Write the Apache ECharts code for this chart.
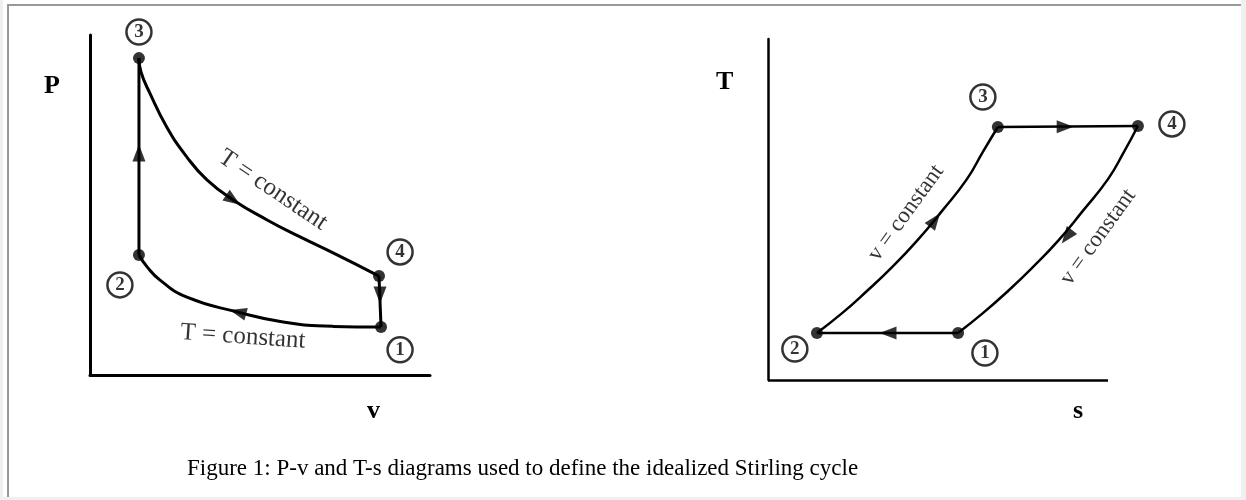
<!DOCTYPE html>
<html>
<head>
<meta charset="utf-8">
<script src="https://cdn.jsdelivr.net/npm/echarts@6/dist/echarts.min.js"></script>
<style>
  html, body { margin: 0; padding: 0; background: #fff; }
  #chart { width: 1246px; height: 500px; }
</style>
</head>
<body>
<div id="chart"></div>
<script>
// P-v diagram (axis units 0..10)
var pvUpper = [[1.44, 9.32], [1.50, 8.91], [1.76, 8.29], [2.26, 7.29], [2.85, 6.41], [3.44, 5.74], [4.21, 5.15], [5.21, 4.56], [6.18, 4.06], [7.15, 3.59], [8.50, 2.91]]
var pvLower = [[1.44, 3.53], [1.68, 3.18], [2.06, 2.79], [2.85, 2.29], [4.35, 1.85], [5.68, 1.56], [7.15, 1.43], [8.56, 1.41]]
var pvSide23 = [[1.44, 9.32], [1.44, 3.53]]
var pvSide41 = [[8.50, 2.91], [8.56, 1.41]]
var pvStates = [[8.56, 1.41], [1.44, 3.53], [1.44, 9.32], [8.50, 2.91]]
var stateNames = ['1', '2', '3', '4']
var pvTags = [[9.12, 0.74], [0.88, 2.65], [1.44, 10.09], [9.12, 3.62]]
var pvArrows = [[1.44, 6.53], [4.21, 5.15], [8.53, 2.35], [4.35, 1.85]]
var pvArrowAngle = [0, -124, 180, 75]
var pvNotes = [[5.38, 5.44], [4.50, 1.12]]
var pvNoteAngle = [-34, -4]

// T-s diagram (the s axis is drawn 0..10, the cycle runs past its end)
var tsAxisEnd = 10
var tsLeft = [[1.44, 1.38], [2.18, 1.96], [2.91, 2.61], [3.65, 3.31], [4.38, 4.08], [5.12, 4.96], [5.85, 5.89], [6.32, 6.69], [6.76, 7.42]]
var tsRight = [[5.59, 1.38], [6.32, 1.96], [7.06, 2.61], [7.79, 3.31], [8.53, 4.08], [9.26, 4.96], [10.0, 5.89], [10.47, 6.69], [10.88, 7.45]]
var tsTop = [[6.76, 7.42], [10.88, 7.45]]
var tsBottom = [[1.44, 1.38], [5.59, 1.38]]
var tsStates = [[5.59, 1.38], [1.44, 1.38], [6.76, 7.42], [10.88, 7.45]]
var tsTags = [[6.38, 0.79], [0.79, 0.91], [6.32, 8.30], [11.88, 7.51]]
var tsArrows = [[4.91, 4.69], [8.74, 7.43], [8.79, 4.20], [3.53, 1.38]]
var tsArrowAngle = [-37, -90, 143, 90]
var tsNotes = [[4.06, 4.90], [9.71, 4.19]]
var tsNoteAngle = [54, 54]

var serif = '"Liberation Serif", "Times New Roman", serif'
var chart = echarts.init(document.getElementById('chart'))

function curve(data, g, w) {
  return {
    type: 'line', xAxisIndex: g, yAxisIndex: g, data: data, smooth: true, clip: false,
    symbol: 'none', silent: true, lineStyle: { color: '#000', width: w }
  }
}
function dots(data, g) {
  return {
    type: 'scatter', xAxisIndex: g, yAxisIndex: g, data: data, clip: false, silent: true,
    symbolSize: 12, itemStyle: { color: '#000' }, z: 5
  }
}
function arrows(data, angles, g) {
  return {
    type: 'scatter', xAxisIndex: g, yAxisIndex: g, clip: false, silent: true,
    symbol: 'triangle', symbolSize: [13, 17], itemStyle: { color: '#000' }, z: 5,
    data: data.map(function (p, i) { return { value: p, symbolRotate: angles[i] } })
  }
}
function tags(data, g) {
  return {
    type: 'scatter', xAxisIndex: g, yAxisIndex: g, clip: false, silent: true,
    symbolSize: 25, itemStyle: { color: '#fff', borderColor: '#000', borderWidth: 2.5 }, z: 6,
    label: { show: true, position: 'inside', formatter: '{b}', color: '#000', fontFamily: serif, fontSize: 19, fontWeight: 'bold' },
    data: data.map(function (p, i) { return { name: stateNames[i], value: p } })
  }
}
function notes(data, angles, text, size, g) {
  return {
    type: 'scatter', xAxisIndex: g, yAxisIndex: g, clip: false, silent: true,
    symbolSize: 1, itemStyle: { color: 'rgba(0,0,0,0)' }, z: 7,
    data: data.map(function (p, i) {
      return { value: p, label: { show: true, position: 'inside', rotate: angles[i], formatter: text,
        color: '#000', fontFamily: serif, fontSize: size } }
    })
  }
}
function axis(g, max, w, showLine) {
  return {
    type: 'value', gridIndex: g, min: 0, max: max, axisTick: { show: false }, axisLabel: { show: false },
    splitLine: { show: false }, axisLine: { show: showLine, onZero: false, lineStyle: { color: '#000', width: w } }
  }
}
function axisName(text, x, y, size) {
  return { type: 'text', left: x, top: y, style: { text: text, fill: '#000', font: 'bold ' + size + 'px ' + serif } }
}

var bottomLine = curve(tsBottom, 1, 2.5)
bottomLine.markLine = {
  silent: true, symbol: ['none', 'none'], label: { show: false },
  lineStyle: { color: '#000', width: 2.5, type: 'solid' },
  data: [[{ coord: [0, 0] }, { coord: [tsAxisEnd, 0] }]]
}

chart.setOption({
  backgroundColor: '#fff',
  animation: false,
  title: {
    text: 'Figure 1: P-v and T-s diagrams used to define the idealized Stirling cycle',
    left: 182, top: 452,
    textStyle: { color: '#000', fontFamily: serif, fontWeight: 'normal', fontSize: 23 }
  },
  grid: [
    { left: 90, top: 35, width: 340, height: 340 },
    { left: 768, top: 39, width: 408, height: 341 }
  ],
  xAxis: [axis(0, 10, 3, true), axis(1, 12, 2.5, false)],
  yAxis: [axis(0, 10, 3, true), axis(1, 10, 2.5, true)],
  graphic: [
    { type: 'rect', shape: { x: 0, y: 0, width: 3, height: 500 }, style: { fill: '#f0f0f0' }, silent: true },
    { type: 'rect', shape: { x: 1241, y: 0, width: 5, height: 500 }, style: { fill: '#f0f0f0' }, silent: true },
    { type: 'rect', shape: { x: 0, y: 497, width: 1246, height: 3 }, style: { fill: '#f0f0f0' }, silent: true },
    { type: 'rect', shape: { x: 7, y: 4, width: 1234, height: 2 }, style: { fill: '#999' }, silent: true },
    { type: 'rect', shape: { x: 7, y: 4, width: 2, height: 493 }, style: { fill: '#999' }, silent: true },
    axisName('P', 44, 73, 26),
    axisName('v', 367, 398, 26),
    axisName('T', 716, 69, 26),
    axisName('s', 1073, 398, 26)
  ],
  series: [
    curve(pvUpper, 0, 3), curve(pvLower, 0, 3), curve(pvSide23, 0, 3), curve(pvSide41, 0, 3),
    dots(pvStates, 0), arrows(pvArrows, pvArrowAngle, 0), tags(pvTags, 0),
    notes(pvNotes, pvNoteAngle, 'T = constant', 25, 0),
    curve(tsLeft, 1, 2.5), curve(tsRight, 1, 2.5), curve(tsTop, 1, 2.5), bottomLine,
    dots(tsStates, 1), arrows(tsArrows, tsArrowAngle, 1), tags(tsTags, 1),
    notes(tsNotes, tsNoteAngle, 'v = constant', 23, 1)
  ]
})
</script>
</body>
</html>
